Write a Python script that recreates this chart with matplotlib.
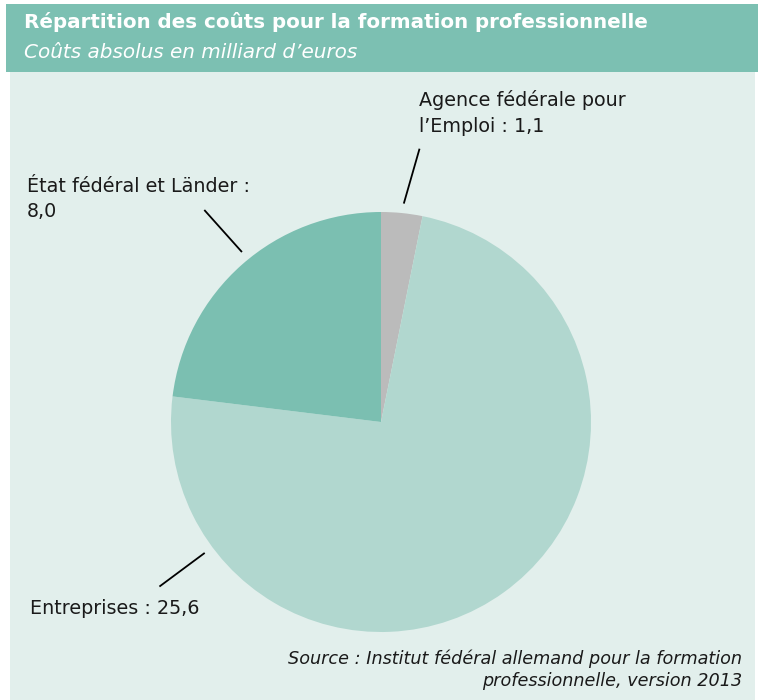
import numpy as np
import matplotlib.pyplot as plt
from matplotlib.patches import Rectangle

# Data (milliards d'euros), clockwise from 12 o'clock
labels = ["Agence fédérale pour\nl\u2019Emploi : 1,1",
          "Entreprises : 25,6",
          "État fédéral et Länder :\n8,0"]
values = [1.1, 25.6, 8.0]
colors = ["#bbbbbb", "#b1d7cf", "#7bbfb1"]

title = "Répartition des coûts pour la formation professionnelle"
subtitle = "Coûts absolus en milliard d\u2019euros"
source = "Source : Institut fédéral allemand pour la formation\nprofessionnelle, version 2013"

W, H = 761, 700
fig = plt.figure(figsize=(W / 100, H / 100), dpi=100)
fig.patch.set_facecolor("white")

# background panel + header band (pixel -> figure fraction)
fig.patches.append(Rectangle((10 / W, 0), 745 / W, (H - 72) / H,
                             transform=fig.transFigure, facecolor="#e2efec",
                             edgecolor="none", zorder=-10))
fig.patches.append(Rectangle((6 / W, (H - 72) / H), 752 / W, 68 / H,
                             transform=fig.transFigure, facecolor="#7cc0b2",
                             edgecolor="none", zorder=-10))

fig.text(24 / W, 1 - 22 / H, title, color="white", fontsize=14.3,
         fontweight="bold", va="center", ha="left")
fig.text(24 / W, 1 - 53 / H, subtitle, color="white", fontsize=14.4,
         style="italic", va="center", ha="left")

# pie axes: centre (381, 422) px, radius 210 px
cx, cy, r = 381, 422, 210
ax = fig.add_axes([(cx - r) / W, (H - cy - r) / H, 2 * r / W, 2 * r / H])
ax.set_facecolor("none")
wedges, _ = ax.pie(values, colors=colors, startangle=90, counterclock=False,
                   wedgeprops=dict(linewidth=0))
ax.set_xlim(-1, 1)
ax.set_ylim(-1, 1)
ax.set_aspect("equal")
ax.axis("off")

# leader lines (inner / outer angle in degrees) + labels (block centre, px)
line_angles = [(84, 82), (216.6, 216.6), (129.3, 129.8)]
label_pos = [(419, 113), (30, 609), (27, 199)]
for lab, (a0, a1), (tx, ty) in zip(labels, line_angles, label_pos):
    a0, a1 = np.deg2rad(a0), np.deg2rad(a1)
    ax.plot([1.05 * np.cos(a0), 1.31 * np.cos(a1)],
            [1.05 * np.sin(a0), 1.31 * np.sin(a1)],
            color="black", lw=1.3, clip_on=False)
    fig.text(tx / W, 1 - ty / H, lab, fontsize=13.8, color="#1a1a1a",
             ha="left", va="center", linespacing=1.4)

fig.text(742 / W, 1 - 670 / H, source, fontsize=12.7, style="italic",
         color="#1a1a1a", ha="right", va="center", linespacing=1.3)

fig.savefig("out.png", dpi=100)
